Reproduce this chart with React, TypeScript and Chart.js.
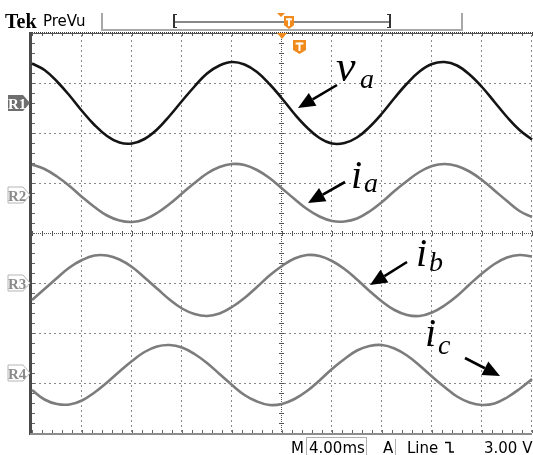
import React, { useEffect, useRef } from "react";
import { Chart, registerables } from "chart.js";

Chart.register(...registerables);

// Time axis: 4.00 ms per division, 10 divisions -> 0..40 ms (1 ms samples)
const timeMs = [0, 1, 2, 3, 4, 5, 6, 7, 8, 9, 10, 11, 12, 13, 14, 15, 16, 17, 18, 19, 20,
  21, 22, 23, 24, 25, 26, 27, 28, 29, 30, 31, 32, 33, 34, 35, 36, 37, 38, 39, 40];

// Trace positions in screen divisions (0 = centre line, +-4 = top / bottom)
const vaTrace = [3.39, 3.26, 3.03, 2.75, 2.44, 2.16, 1.94, 1.81, 1.79, 1.88, 2.07, 2.34, 2.64,
  2.93, 3.19, 3.35, 3.42, 3.37, 3.22, 2.98, 2.69, 2.38, 2.11, 1.90, 1.79, 1.80, 1.91, 2.12,
  2.39, 2.70, 2.99, 3.23, 3.38, 3.42, 3.35, 3.17, 2.92, 2.62, 2.32, 2.06, 1.87];
const iaTrace = [1.37, 1.28, 1.13, 0.94, 0.72, 0.52, 0.35, 0.25, 0.22, 0.27, 0.40, 0.58, 0.79,
  1.00, 1.19, 1.32, 1.38, 1.36, 1.26, 1.10, 0.89, 0.68, 0.48, 0.33, 0.24, 0.23, 0.29, 0.43,
  0.62, 0.84, 1.04, 1.22, 1.34, 1.38, 1.34, 1.23, 1.06, 0.85, 0.64, 0.44, 0.32];
const ibTrace = [-1.34, -1.12, -0.90, -0.69, -0.54, -0.45, -0.45, -0.53, -0.68, -0.89, -1.11,
  -1.33, -1.51, -1.62, -1.66, -1.61, -1.48, -1.30, -1.08, -0.85, -0.66, -0.51, -0.44, -0.46,
  -0.56, -0.72, -0.93, -1.16, -1.37, -1.54, -1.64, -1.66, -1.59, -1.45, -1.26, -1.03, -0.81,
  -0.62, -0.49, -0.44, -0.47];
const icTrace = [-3.14, -3.33, -3.42, -3.43, -3.35, -3.19, -2.99, -2.77, -2.56, -2.38, -2.27,
  -2.24, -2.29, -2.42, -2.60, -2.82, -3.04, -3.24, -3.37, -3.44, -3.42, -3.32, -3.16, -2.95,
  -2.72, -2.52, -2.35, -2.26, -2.24, -2.31, -2.45, -2.65, -2.87, -3.08, -3.27, -3.39, -3.44,
  -3.41, -3.29, -3.12, -2.92];

const channelNames = ["R1", "R2", "R3", "R4"];
const channelLevels = [2.6, 0.76, -1.0, -2.8];

const traceLabels = [
  { main: "v", sub: "a" },
  { main: "i", sub: "a" },
  { main: "i", sub: "b" },
  { main: "i", sub: "c" },
];

const ORANGE = "#f08a1c";

function drawArrow(ctx: CanvasRenderingContext2D, x1: number, y1: number, x2: number, y2: number) {
  const ang = Math.atan2(y2 - y1, x2 - x1);
  const hl = 17, hw = 7.5;
  const bx = x2 - hl * Math.cos(ang), by = y2 - hl * Math.sin(ang);
  ctx.strokeStyle = "#000";
  ctx.fillStyle = "#000";
  ctx.lineWidth = 2.6;
  ctx.beginPath();
  ctx.moveTo(x1, y1);
  ctx.lineTo(bx, by);
  ctx.stroke();
  ctx.beginPath();
  ctx.moveTo(x2, y2);
  ctx.lineTo(bx + hw * Math.sin(ang), by - hw * Math.cos(ang));
  ctx.lineTo(bx - hw * Math.sin(ang), by + hw * Math.cos(ang));
  ctx.closePath();
  ctx.fill();
}

function drawShieldT(ctx: CanvasRenderingContext2D, x: number, y: number, w: number, h: number) {
  ctx.fillStyle = ORANGE;
  ctx.beginPath();
  ctx.moveTo(x, y);
  ctx.lineTo(x + w, y);
  ctx.lineTo(x + w, y + h * 0.72);
  ctx.lineTo(x + w / 2, y + h);
  ctx.lineTo(x, y + h * 0.72);
  ctx.closePath();
  ctx.fill();
  ctx.fillStyle = "#fff";
  ctx.fillRect(x + w * 0.2, y + h * 0.18, w * 0.6, 2);
  ctx.fillRect(x + w / 2 - 1, y + h * 0.18, 2, h * 0.6);
}

const scopePlugin = {
  id: "scopeScreen",
  beforeDraw(chart: any) {
    const ctx: CanvasRenderingContext2D = chart.ctx;
    const { left, right, top, bottom } = chart.chartArea;
    const xs = chart.scales.x;
    const ys = chart.scales.y;
    ctx.save();
    ctx.fillStyle = "#fff";
    ctx.fillRect(0, 0, chart.width, chart.height);

    // division grid (dotted)
    ctx.fillStyle = "#8a8a8a";
    for (let d = 1; d <= 10; d++) {
      if (d === 5) continue;
      const x = Math.round(xs.getPixelForValue(d * 4));
      for (let y = top + 2; y <= bottom; y += 5) ctx.fillRect(x - 1, y, 1, 2);
    }
    for (let v = -3; v <= 3; v++) {
      if (v === 0) continue;
      const y = Math.round(ys.getPixelForValue(v));
      for (let x = left + 2; x <= right; x += 5) ctx.fillRect(x, y, 2, 1);
    }
    // centre cross with ticks
    const cx = Math.round(xs.getPixelForValue(20));
    const cy = Math.round(ys.getPixelForValue(0));
    ctx.fillStyle = "#555";
    for (let y = top; y <= bottom; y += 2) ctx.fillRect(cx - 1, y, 1, 1);
    for (let x = left; x <= right; x += 2) ctx.fillRect(x, cy, 1, 1);
    for (let y = top; y <= bottom; y += 10) ctx.fillRect(cx - 3, y, 5, 1);
    for (let x = left; x <= right; x += 10) ctx.fillRect(x, cy - 2, 1, 5);

    // borders
    ctx.fillStyle = "#3a3a3a";
    for (let x = left - 2; x <= right; x += 2) ctx.fillRect(x, top - 1, 1, 1);
    ctx.fillStyle = "#555";
    ctx.fillRect(left - 2, top, right - left + 2, 1);
    for (let x = left; x <= right; x += 10) ctx.fillRect(x, top, 1, 3);
    ctx.fillStyle = "#4a4a4a";
    ctx.fillRect(left - 3, top - 1, 3, bottom - top + 3);
    ctx.fillStyle = "#666";
    for (let y = top; y <= bottom; y += 10) ctx.fillRect(left, y, 3, 1);
    ctx.fillStyle = "#8c8c8c";
    ctx.fillRect(left - 2, bottom, right - left + 2, 2);
    ctx.fillStyle = "#666";
    for (let x = left; x <= right; x += 10) ctx.fillRect(x, bottom - 3, 1, 3);

    ctx.restore();
  },
  afterDatasetsDraw(chart: any) {
    const ctx: CanvasRenderingContext2D = chart.ctx;
    const { left, top } = chart.chartArea;
    const xs = chart.scales.x;
    const ys = chart.scales.y;
    ctx.save();

    // ---- header ----
    ctx.fillStyle = "#000";
    ctx.textBaseline = "alphabetic";
    ctx.font = "bold 20px 'Liberation Serif'";
    ctx.fillText("Tek", 5, 28);
    ctx.font = "15px 'DejaVu Sans'";
    ctx.fillText("PreVu", 43, 26);
    ctx.fillStyle = "#a8a8a8";
    ctx.fillRect(101, 13, 2, 17);
    ctx.fillRect(461, 13, 2, 17);
    ctx.fillRect(101, 29, 362, 2);
    ctx.fillStyle = "#888";
    ctx.fillRect(174, 21, 216, 2);
    ctx.fillStyle = "#333";
    ctx.fillRect(173, 14, 2, 14);
    ctx.fillRect(173, 14, 4, 1);
    ctx.fillRect(173, 27, 4, 1);
    ctx.fillRect(389, 14, 2, 14);
    ctx.fillRect(387, 14, 4, 1);
    ctx.fillRect(387, 27, 4, 1);
    ctx.fillStyle = ORANGE;
    ctx.beginPath();
    ctx.moveTo(277, 13);
    ctx.lineTo(285, 13);
    ctx.lineTo(281, 17);
    ctx.closePath();
    ctx.fill();
    drawShieldT(ctx, 284, 16, 10, 13);

    // trigger marker on graticule
    const cx = xs.getPixelForValue(20);
    ctx.fillStyle = ORANGE;
    ctx.beginPath();
    ctx.moveTo(cx - 5, top);
    ctx.lineTo(cx + 5, top);
    ctx.lineTo(cx, top + 6);
    ctx.closePath();
    ctx.fill();
    drawShieldT(ctx, cx + 11, top + 7, 13, 14);

    // ---- channel markers ----
    ctx.font = "bold 15px 'Liberation Serif'";
    channelNames.forEach((name, i) => {
      const y = Math.round(ys.getPixelForValue(channelLevels[i]));
      const x0 = 8, x1 = left - 9, x2 = left - 2;
      ctx.beginPath();
      ctx.moveTo(x0, y - 8);
      ctx.lineTo(x1, y - 8);
      ctx.lineTo(x2, y);
      ctx.lineTo(x1, y + 8);
      ctx.lineTo(x0, y + 8);
      ctx.closePath();
      if (i === 0) {
        ctx.fillStyle = "#6e6e6e";
        ctx.fill();
        ctx.fillStyle = "#fff";
      } else {
        ctx.fillStyle = "#fff";
        ctx.fill();
        ctx.strokeStyle = "#b5b5b5";
        ctx.lineWidth = 1;
        ctx.stroke();
        ctx.fillStyle = "#8a8a8a";
      }
      ctx.fillText(name, 8, y + 6);
    });

    // ---- annotations ----
    const labelPos = [
      { x: 336, y: 81, sx: 360, sy: 88, m: 44 },
      { x: 351, y: 188, sx: 364, sy: 192, m: 40 },
      { x: 416, y: 266, sx: 429, sy: 271, m: 40 },
      { x: 425, y: 346, sx: 438, sy: 354, m: 40 },
    ];
    ctx.fillStyle = "#000";
    traceLabels.forEach((lab, i) => {
      const p = labelPos[i];
      ctx.font = `italic ${p.m}px 'Liberation Serif'`;
      ctx.fillText(lab.main, p.x, p.y);
      ctx.font = "italic 28px 'Liberation Serif'";
      ctx.fillText(lab.sub, p.sx, p.sy);
    });
    drawArrow(ctx, 337, 85, 298, 108);
    drawArrow(ctx, 345, 182, 308, 203);
    drawArrow(ctx, 407, 262, 370, 285);
    drawArrow(ctx, 465, 358, 500, 376);

    // ---- bottom status line ----
    ctx.fillStyle = "#000";
    ctx.font = "15px 'DejaVu Sans'";
    ctx.fillText("M", 291, 453);
    ctx.fillText("4.00ms", 309, 453);
    ctx.fillText("A", 383, 453);
    ctx.fillText("Line", 407, 453);
    ctx.fillText("3.00 V", 484, 453);
    ctx.fillStyle = "#b0b0b0";
    ctx.fillRect(306, 437, 1, 18);
    ctx.fillRect(306, 437, 61, 1);
    ctx.fillRect(366, 437, 1, 18);
    ctx.fillRect(395, 439, 1, 16);
    // falling edge symbol
    ctx.strokeStyle = "#000";
    ctx.lineWidth = 1.5;
    ctx.beginPath();
    ctx.moveTo(445, 442.5);
    ctx.lineTo(450, 442.5);
    ctx.lineTo(450, 452);
    ctx.lineTo(454, 452);
    ctx.stroke();

    ctx.restore();
  },
};

export default function App() {
  const ref = useRef<HTMLCanvasElement | null>(null);
  useEffect(() => {
    if (!ref.current) return;
    const chart = new Chart(ref.current, {
      type: "line",
      data: {
        labels: timeMs.map(String),
        datasets: [
          { label: "va", data: vaTrace, borderColor: "#141414", borderWidth: 2.6 },
          { label: "ia", data: iaTrace, borderColor: "#7c7c7c", borderWidth: 2.6 },
          { label: "ib", data: ibTrace, borderColor: "#7c7c7c", borderWidth: 2.6 },
          { label: "ic", data: icTrace, borderColor: "#7c7c7c", borderWidth: 2.6 },
        ],
      },
      options: {
        responsive: false,
        animation: false,
        layout: { padding: { left: 32, top: 33, right: 1, bottom: 22 } },
        elements: { point: { radius: 0 }, line: { tension: 0.4 } },
        scales: {
          x: { type: "category", display: false, offset: false },
          y: { type: "linear", min: -4, max: 4, display: false },
        },
        plugins: { legend: { display: false }, tooltip: { enabled: false } },
      },
      plugins: [scopePlugin],
    });
    return () => chart.destroy();
  }, []);
  return (
    <div style={{ position: "absolute", left: 0, top: 0, width: 533, height: 455, background: "#fff" }}>
      <canvas ref={ref} width={533} height={455} style={{ display: "block" }} />
    </div>
  );
}
